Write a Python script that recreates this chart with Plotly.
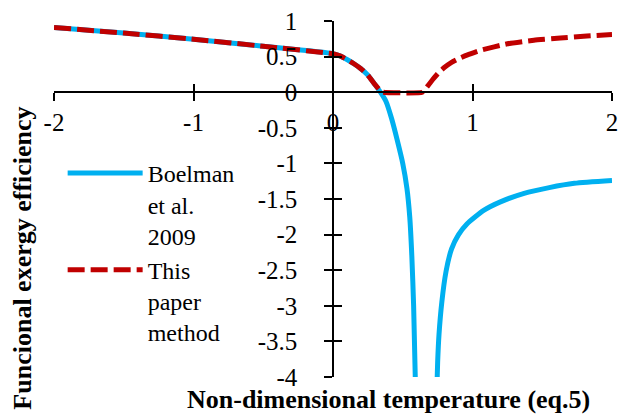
import plotly.graph_objects as go

# Boelman et al. 2009 (two branches separated by None at the singularity)
boelman_x = [-2.0, -1.5, -1.0, -0.5, 0.0, 0.05, 0.10, 0.15, 0.20, 0.25, 0.30, 0.34,
             0.38, 0.42, 0.46, 0.50, 0.53, 0.55, 0.565, 0.578, 0.592,
             None,
             0.744, 0.75, 0.76, 0.78, 0.81, 0.85, 0.90, 0.96, 1.08, 1.20, 1.37, 1.55, 1.73, 2.0]
boelman_y = [0.91, 0.83, 0.745, 0.645, 0.54, 0.51, 0.46, 0.40, 0.33, 0.24, 0.11, 0.0,
             -0.13, -0.37, -0.67, -1.0, -1.35, -1.75, -2.3, -3.0, -4.2,
             None,
             -4.2, -3.8, -3.4, -2.95, -2.52, -2.2, -2.0, -1.85, -1.66, -1.54, -1.42, -1.34, -1.28, -1.24]

# This paper method
paper_x = [-2.0, -1.5, -1.0, -0.5, 0.0, 0.05, 0.10, 0.15, 0.20, 0.25, 0.30, 0.34, 0.36,
           0.64, 0.68, 0.72, 0.76, 0.80, 0.85, 0.90, 0.96, 1.06, 1.25, 1.44, 1.63, 1.82, 2.0]
paper_y = [0.91, 0.83, 0.745, 0.645, 0.54, 0.51, 0.46, 0.40, 0.33, 0.24, 0.11, 0.02, 0.0,
           0.0, 0.09, 0.19, 0.28, 0.35, 0.42, 0.47, 0.52, 0.59, 0.68, 0.73, 0.76, 0.79, 0.81]

x_ticks = [-2, -1, 0, 1, 2]
x_ticktext = ["-2", "-1", "0", "1", "2"]
y_ticks = [1, 0.5, 0, -0.5, -1, -1.5, -2, -2.5, -3, -3.5, -4]
y_ticktext = ["1", "0.5", "0", "-0.5", "-1", "-1.5", "-2", "-2.5", "-3", "-3.5", "-4"]

FONT = "Liberation Serif"

fig = go.Figure()
fig.add_trace(go.Scatter(x=boelman_x, y=boelman_y, mode="lines",
                         name="Boelman<br>et al.<br>2009",
                         line=dict(color="#00B0F0", width=5, shape="spline", smoothing=0.6),
                         connectgaps=False))
fig.add_trace(go.Scatter(x=paper_x, y=paper_y, mode="lines",
                         name="This<br>paper<br>method",
                         line=dict(color="#C00000", width=5, dash="17px,6px",
                                   shape="spline", smoothing=0.4)))
# helper trace for the overlay axes (inner tick halves)
fig.add_trace(go.Scatter(x=[None], y=[None], xaxis="x2", yaxis="y2",
                         showlegend=False, hoverinfo="skip"))

axis_common = dict(showgrid=False, zeroline=False, color="black", automargin=False)
tickfont = dict(family=FONT, size=25, color="black")
fig.update_layout(
    width=618, height=414,
    margin=dict(l=54, r=6, t=21, b=37),
    plot_bgcolor="white", paper_bgcolor="white",
    font=dict(family=FONT, size=25, color="black"),
    xaxis=dict(range=[-2, 2], tickvals=x_ticks, ticktext=x_ticktext,
               ticks="outside", ticklen=8, tickwidth=1.5, tickcolor="black",
               showline=True, linecolor="black", linewidth=1.5, tickfont=tickfont,
               ticklabeloverflow="allow",
               anchor="free", position=0.8, domain=[0, 1], **axis_common),
    yaxis=dict(range=[-4, 1], tickvals=y_ticks, ticktext=y_ticktext,
               ticks="outside", ticklen=8, tickwidth=1.5, tickcolor="black",
               showline=True, linecolor="black", linewidth=1.5, tickfont=tickfont,
               ticklabelstandoff=22, ticklabeloverflow="allow",
               anchor="free", position=0.5, domain=[0, 1], **axis_common),
    xaxis2=dict(range=[-2, 2], overlaying="x", tickvals=x_ticks, ticks="inside",
                ticklen=8, tickwidth=1.5, tickcolor="black", showticklabels=False,
                showline=False, anchor="free", position=0.8, **axis_common),
    yaxis2=dict(range=[-4, 1], overlaying="y", tickvals=y_ticks, ticks="inside",
                ticklen=8, tickwidth=1.5, tickcolor="black", showticklabels=False,
                showline=False, anchor="free", position=0.5, **axis_common),
    legend=dict(x=0.0155, y=0.635, xanchor="left", yanchor="top", valign="top",
                bgcolor="rgba(0,0,0,0)", itemwidth=75,
                font=dict(family=FONT, size=24)),
    showlegend=True,
    annotations=[
        dict(text="<b>Non-dimensional temperature (eq.5)</b>", xref="paper", yref="paper",
             x=0.599, y=-0.062, xanchor="center", yanchor="middle", showarrow=False,
             font=dict(family=FONT, size=26)),
        dict(text="<b>Funcional exergy efficiency</b>", xref="paper", yref="paper",
             x=-0.057, y=0.333, xanchor="center", yanchor="middle", showarrow=False,
             textangle=-90, font=dict(family=FONT, size=26)),
    ],
)

fig.write_html("out.html", config={"displayModeBar": False},
               post_script="document.body.style.margin='0';")
